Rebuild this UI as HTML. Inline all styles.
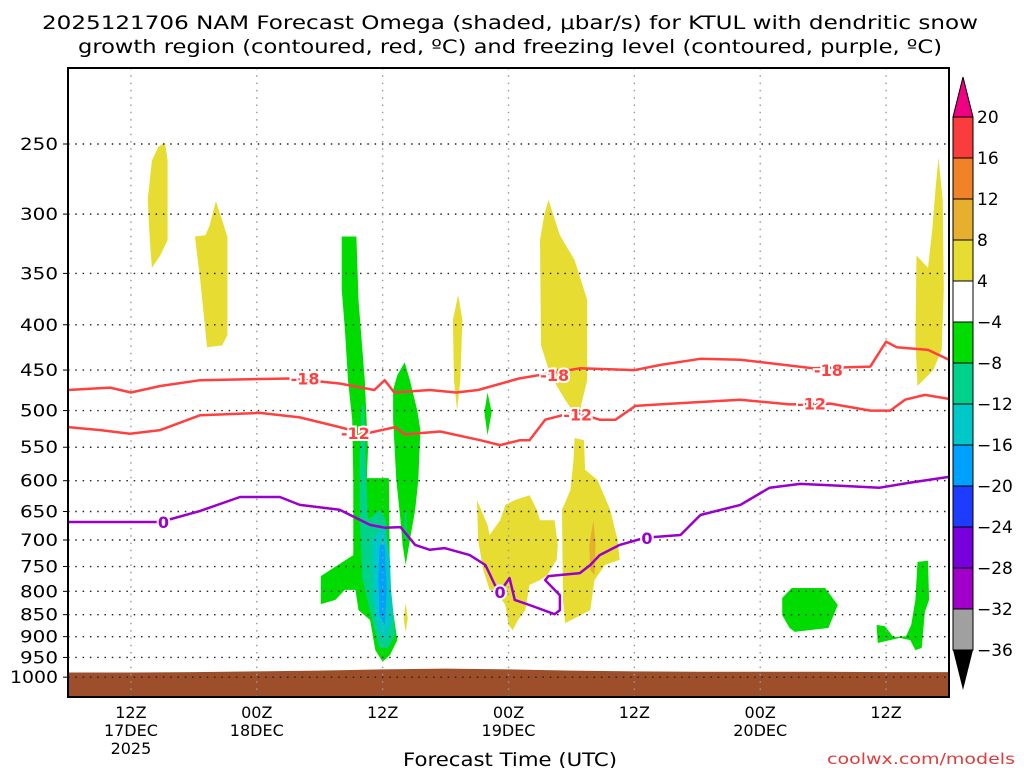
<!DOCTYPE html>
<html><head><meta charset="utf-8">
<style>
html,body{margin:0;padding:0;background:#fff;}
svg{display:block;font-family:"DejaVu Sans","Liberation Sans",sans-serif;}
</style></head>
<body>
<svg id="chart" width="1024" height="768" viewBox="0 0 1024 768" xmlns="http://www.w3.org/2000/svg">
<text x="42" y="29" font-size="19" textLength="936" lengthAdjust="spacingAndGlyphs" fill="#000">2025121706 NAM Forecast Omega (shaded, μbar/s) for KTUL with dendritic snow</text>
<text x="78" y="53" font-size="19" textLength="864" lengthAdjust="spacingAndGlyphs" fill="#000">growth region (contoured, red, ºC) and freezing level (contoured, purple, ºC)</text>
<g id="plot"></g>
<text x="403" y="766" font-size="19" textLength="214" lengthAdjust="spacingAndGlyphs" fill="#000">Forecast Time (UTC)</text>
<text x="827" y="764" font-size="15" textLength="188" lengthAdjust="spacingAndGlyphs" fill="#e03c3c">coolwx.com/models</text>
</svg>
<script>
// ---- data ----
const pTicks = [250,300,350,400,450,500,550,600,650,700,750,800,850,900,950,1000];
const xTickHours = [6,18,30,42,54,66,78];
const xTickLabels = [["12Z","17DEC","2025"],["00Z","18DEC"],["12Z"],["00Z","19DEC"],["12Z"],["00Z","20DEC"],["12Z"]];
const cbLabels = ["20","16","12","8","4","−4","−8","−12","−16","−20","−24","−28","−32","−36"];
const cbColors = ["#fa3c3c","#f08228","#e6af2d","#e6dc32","#ffffff","#00dc00","#00d28c","#00c8c8","#00a0ff","#1e3cff","#7800dc","#a000c8","#a0a0a0"];
const surfHours = [0,6,12,18,24,30,36,42,48,54,60,66,72,78,84];
const surfP = [988,988,987,985,983,980,978,980,983,985,986,986,986,987,987];
const m18Hours = [0,4,6,8.8,12.6,21.2,25.9,29.2,30.2,31.1,34.5,37,39.1,43,48.8,54,56.5,60.3,64.1,71,76.5,78,79,82,84];
const m18P = [474,471,477,469,462,460,466,474,462,477,474,477,474,460,448,450,444,437,438,448,446,418,424,427,438];
const m12Hours = [0,3.1,5.9,8.8,12.6,18.3,22.1,25.9,28.3,29.3,31.2,32.1,35.5,39.3,41.2,43.1,44.0,45.5,48.3,50.7,52.2,54.1,56.4,60.3,64.1,68.8,72.7,76.5,78.4,79.8,81.7,84];
const m12P = [522,526,531,526,506,503,509,522,531,528,522,532,528,540,547,540,540,512,502,512,512,494,492,489,486,492,491,500,500,486,480,485];
const zeroHours = [0,3.05,8.8,12.6,16.4,20.2,22.1,25.9,28.8,30.2,31.7,33.1,34.5,35.9,38.3,39.8,40.7,41.2,42.1,42.6,44.0,46.4,46.9,46.9,45.5,45.8,48.8,49.8,50.7,52.6,55.0,58.4,60.3,64.1,66.9,69.8,73.6,77.4,80.3,84];
const zeroP = [668,668,668,649,626,626,639,647,673,678,677,709,718,715,728,747,787,801,773,818,829,849,840,808,777,769,763,747,728,709,696,691,656,639,611,605,608,611,603,594];
const m18Labels = [[22.6,460],[46.4,456],[72.5,450]];
const m12Labels = [[27.4,530],[48.6,505],[70.9,491]];
const zeroLabels = [[9.1,668],[41.2,801],[55.2,696]];
// shaded omega regions: [hour, hPa] vertices
const yellowA = [[9.25,249],[9.5,261],[9.5,321],[8.8,334],[8.0,345],[7.8,321],[7.6,289],[8.0,261],[8.6,252]];
const yellowB = [[14.1,290],[14.7,305],[15.2,318],[15.2,411],[14.7,422],[13.25,424],[13.0,395],[12.6,356],[12.1,318],[13.1,317],[13.5,309]];
const yellowC = [[37.2,370],[37.6,395],[37.4,462],[37.1,500],[36.8,462],[36.7,395]];
const yellowD = [[45.8,289],[46.9,317],[48.3,338],[49.5,375],[49.5,462],[48.8,500],[48.2,502],[47.4,486],[46.0,456],[45.1,422],[45.0,321],[45.4,301]];
const yellowE = [[48.3,537],[49.2,540],[49.3,583],[50.5,599],[51.7,647],[52.4,700],[52.6,737],[51.2,747],[50.2,777],[49.8,840],[47.4,869],[47.2,818],[47.1,647],[47.9,615],[48.2,569]];
const yellowF = [[39.0,631],[40.0,673],[40.2,691],[41.2,665],[41.7,639],[42.6,631],[44.0,623],[44.7,647],[45.0,665],[46.4,665],[46.7,709],[46.6,737],[45.7,767],[45.0,777],[44.0,787],[43.6,840],[42.9,862],[42.4,885],[42.0,873],[41.7,829],[40.7,797],[40.2,797],[39.6,757],[39.1,700]];
const yellowG = [[32.2,825],[32.4,858],[32.2,890],[32.0,858]];
const yellowH = [[83.0,259],[83.4,289],[83.5,365],[83.3,427],[82.5,450],[81.0,469],[80.8,416],[80.9,334],[82.0,345],[82.4,313],[82.7,282]];
const orangeA = [[50.1,665],[50.3,709],[50.2,767],[49.8,757],[49.7,709]];
const green1 = [[26.1,318],[27.5,318],[27.7,375],[28.3,462],[28.6,554],[28.5,596],[30.6,596],[30.7,797],[31.4,908],[30.7,944],[30.0,961],[29.3,932],[28.8,862],[27.7,840],[27.4,797],[26.4,797],[25.5,818],[24.1,827],[24.1,769],[26.2,741],[27.2,728],[27.2,599],[27.1,512],[26.7,462],[26.4,405],[26.1,365]];
const green2 = [[32.1,441],[32.6,462],[33.3,500],[33.6,526],[33.4,599],[33.1,647],[32.6,700],[32.2,747],[31.9,709],[31.7,665],[31.3,599],[31.0,512],[31.0,474],[31.4,456]];
const green3 = [[40.0,477],[40.4,502],[40.0,533],[39.7,502]];
const green4 = [[69.0,793],[72.2,793],[72.9,814],[73.4,829],[72.9,857],[72.5,880],[70.6,885],[69.3,889],[68.8,880],[68.1,851],[68.1,814]];
const green5 = [[81.0,741],[82.0,739],[82.1,818],[81.7,844],[81.4,927],[80.8,932],[80.3,908],[79.3,903],[78.4,908],[77.2,915],[77.1,873],[77.9,876],[78.7,901],[79.9,899],[80.4,873],[80.8,818]];
const teal1 = [[28.0,493],[28.2,493],[28.4,583],[28.6,665],[29.7,647],[30.3,665],[30.5,737],[30.9,818],[31.2,896],[30.5,927],[29.7,927],[29.0,862],[28.1,777],[27.8,665],[27.8,569]];
const teal2 = [[32.1,650],[32.3,650],[32.3,700],[32.1,700]];
const cyan1 = [[29.0,700],[30.2,673],[30.7,737],[30.9,862],[30.2,908],[29.6,885],[29.1,818]];
const blue1 = [[29.7,709],[30.2,709],[30.4,797],[30.2,873],[29.7,851],[29.6,777]];

// ---- axes ----
const X0=68, X1=949, Y0=68, Y1=697, HMAX=84;
const xs = h => X0 + h*(X1-X0)/HMAX;
const ys = p => 144 + 384.6*Math.log(p/250);
const NS='http://www.w3.org/2000/svg';
const plot=document.getElementById('plot');
function mk(tag,attrs,parent){const e=document.createElementNS(NS,tag);for(const k in attrs)e.setAttribute(k,attrs[k]);(parent||plot).appendChild(e);return e;}
const clip=mk('clipPath',{id:'pc'});mk('rect',{x:X0,y:Y0,width:X1-X0,height:Y1-Y0},clip);
const inner=mk('g',{'clip-path':'url(#pc)'});



function poly(pts,fill,name){
  const d=pts.map(q=>xs(q[0]).toFixed(1)+','+ys(q[1]).toFixed(1)).join(' ');
  const e=mk('polygon',{points:d,fill:fill},inner);
  
  
}
[[yellowA,'#e6dc32','omega-region-yellow-a'],[yellowB,'#e6dc32','omega-region-yellow-b'],[yellowC,'#e6dc32','omega-region-yellow-c'],[yellowD,'#e6dc32','omega-region-yellow-d'],[yellowE,'#e6dc32','omega-region-yellow-e'],[yellowF,'#e6dc32','omega-region-yellow-f'],[yellowG,'#e6dc32','omega-region-yellow-g'],[yellowH,'#e6dc32','omega-region-yellow-h'],[orangeA,'#e6af2d','omega-region-orange'],[green1,'#00dc00','omega-region-green-1'],[green2,'#00dc00','omega-region-green-2'],[green3,'#00dc00','omega-region-green-3'],[green4,'#00dc00','omega-region-green-4'],[green5,'#00dc00','omega-region-green-5'],[teal1,'#00d28c','omega-region-teal-1'],[teal2,'#00d28c','omega-region-teal-2'],[cyan1,'#00c8c8','omega-region-cyan'],[blue1,'#00a0ff','omega-region-blue']].forEach(r=>poly(r[0],r[1],r[2]));

// ground
{
  let d='M'+xs(surfHours[0])+','+(Y1+5);
  surfHours.forEach((h,i)=>{d+=' L'+xs(h).toFixed(1)+','+ys(surfP[i]).toFixed(1);});
  d+=' L'+xs(surfHours[surfHours.length-1])+','+(Y1+5)+' Z';
  const g=mk('path',{d:d,fill:'#9c4f2a'},inner);
  
  
}
// gridlines
pTicks.forEach(p=>{
  const l=mk('line',{x1:X0,x2:X1,y1:ys(p),y2:ys(p),stroke:'#222','stroke-width':1.4,'stroke-dasharray':'1.5 5.8'},inner);
  
  
});
xTickHours.forEach(h=>{
  const l=mk('line',{x1:xs(h),x2:xs(h),y1:Y0,y2:Y1,stroke:'#999','stroke-width':1.4,'stroke-dasharray':'1.5 5.8'},inner);
  
  
});
// contours
function line(H,P,color,name){
  const d=H.map((h,i)=>(i?'L':'M')+xs(h).toFixed(1)+','+ys(P[i]).toFixed(1)).join(' ');
  const e=mk('path',{d:d,fill:'none',stroke:color,'stroke-width':2.5,'stroke-linejoin':'round'},inner);
  
  
}
line(m18Hours,m18P,'#ff4040','contour-minus18');
line(m12Hours,m12P,'#ff4040','contour-minus12');
line(zeroHours,zeroP,'#9900cc','contour-freezing-level');
function labels(arr,txt,color,name){
  arr.forEach(q=>{
    const t=mk('text',{x:xs(q[0]),y:ys(q[1])+6,'font-size':16,'font-weight':'bold','text-anchor':'middle',fill:color,stroke:'#fff','stroke-width':4,'paint-order':'stroke'},inner);
    t.textContent=txt;
    
    
  });
}
labels(m18Labels,'-18','#ff4040','contour-label-minus18');
labels(m12Labels,'-12','#ff4040','contour-label-minus12');
labels(zeroLabels,'0','#9900cc','contour-label-zero');

// frame
{const f=mk('rect',{x:X0,y:Y0,width:X1-X0,height:Y1-Y0,fill:'none',stroke:'#000','stroke-width':2});
}
// y tick labels
pTicks.forEach(p=>{
  const s=String(p);
  const w=s.length*10+8;
  const t=mk('text',{x:58-w,y:ys(p)+6,'font-size':17,textLength:w,lengthAdjust:'spacingAndGlyphs',fill:'#000'});
  t.textContent=s;
  
  
  const tk=mk('line',{x1:X0-5,x2:X0,y1:ys(p),y2:ys(p),stroke:'#000','stroke-width':1});
  
  
});
// x tick labels
xTickHours.forEach((h,i)=>{
  xTickLabels[i].forEach((s,j)=>{
    const t=mk('text',{x:xs(h),y:718+j*18,'font-size':16,'text-anchor':'middle',fill:'#000'});
    t.textContent=s;
    
    
  });
});
// colorbar
{
  const cbX=953,cbW=20,cbTop=117,cbH=41;
  const g=mk('g',{});
  
  
  const tr=mk('polygon',{points:`${cbX+cbW/2},77 ${cbX},${cbTop} ${cbX+cbW},${cbTop}`,fill:'#f00082',stroke:'#000','stroke-width':1},g);
  
  
  cbColors.forEach((c,i)=>{
    const r=mk('rect',{x:cbX,y:cbTop+i*cbH,width:cbW,height:cbH,fill:c,stroke:'#000','stroke-width':1},g);
    
    
  });
  const bEnd=cbTop+cbColors.length*cbH;
  const tb=mk('polygon',{points:`${cbX},${bEnd} ${cbX+cbW},${bEnd} ${cbX+cbW/2},${bEnd+40}`,fill:'#000'},g);
  
  
  cbLabels.forEach((s,i)=>{
    const t=mk('text',{x:977,y:cbTop+i*cbH+6,'font-size':17,fill:'#000'},g);
    t.textContent=s;
    
    
  });
}
</script>
</body></html>
